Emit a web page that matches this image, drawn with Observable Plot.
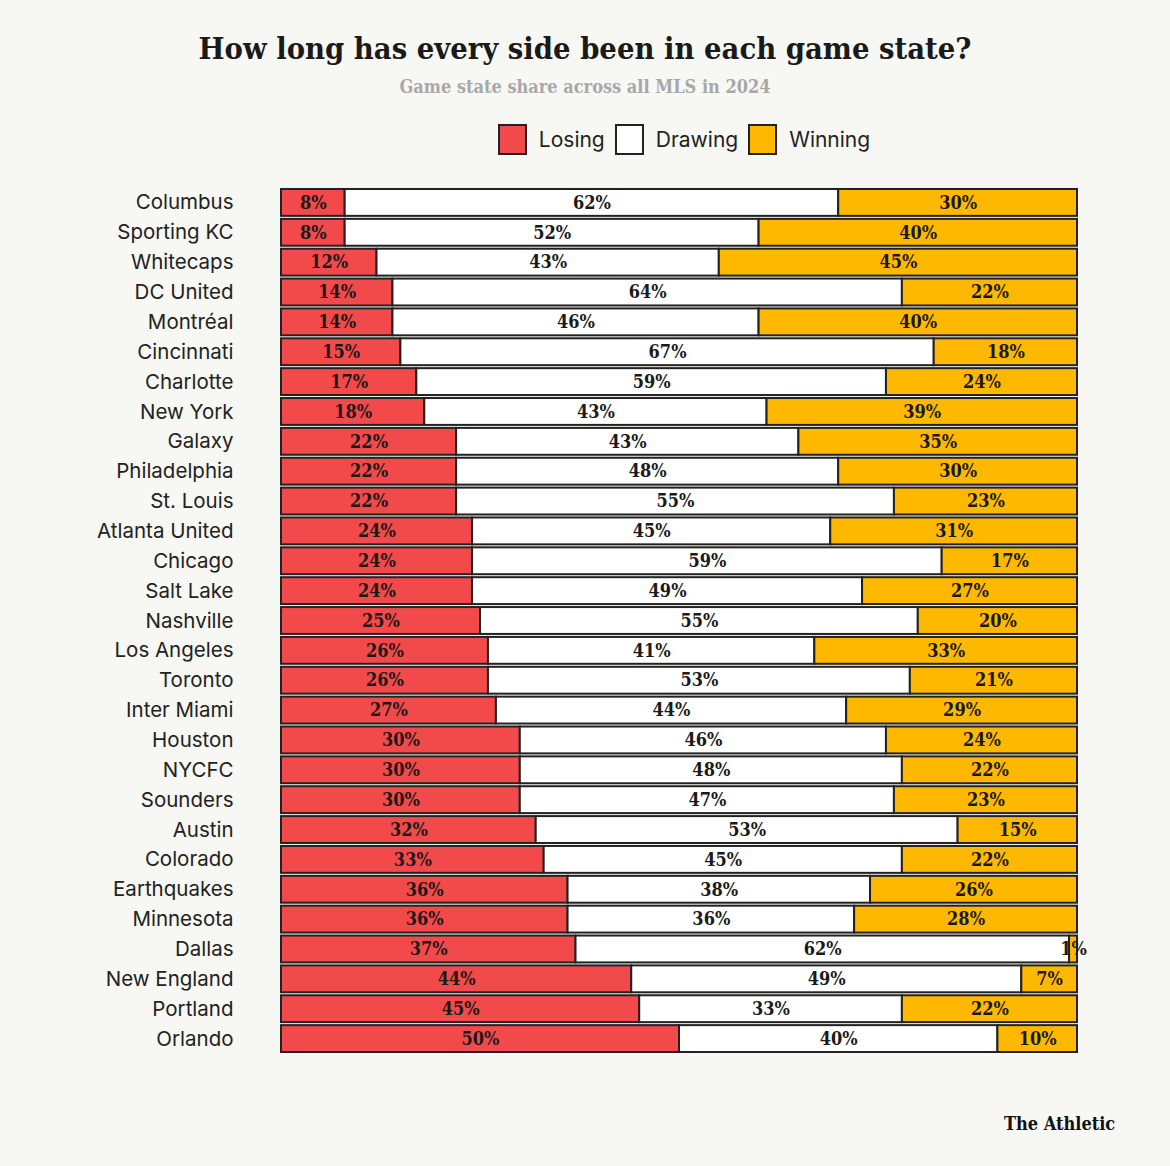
<!DOCTYPE html>
<html>
<head>
<meta charset="utf-8">
<script src="https://cdn.jsdelivr.net/npm/d3@7"></script>
<script src="https://cdn.jsdelivr.net/npm/@observablehq/plot@0.6"></script>
<style>
  html, body { margin: 0; padding: 0; background: #f7f7f3; }
  #wrap { position: relative; width: 1170px; height: 1166px; background: #f7f7f3; overflow: hidden; }
  .serif { font-family: "DejaVu Serif", serif; font-stretch: condensed; font-weight: bold; }
  #title { position: absolute; top: 30px; left: 0; width: 1170px; text-align: center; font-size: 30.6px; color: #1a1a1a; }
  #subtitle { position: absolute; top: 76px; left: 0; width: 1170px; text-align: center; font-size: 18px; color: #a8a8a8; }
  #legend { position: absolute; top: 124px; left: 0; width: 1170px; display: flex; justify-content: center; padding-left: 208px; box-sizing: border-box; font-family: Inter, "Noto Sans", sans-serif; font-size: 21px; color: #222; }
  .item { display: flex; align-items: center; margin-right: 10px; }
  .sw { width: 25px; height: 27px; border: 2px solid #222; margin-right: 12px; }
  #chart { position: absolute; top: 180px; left: 0; }
  #footer { position: absolute; top: 1113px; left: 1004px; font-size: 18px; color: #111; font-stretch: condensed; }
</style>
</head>
<body>
<div id="wrap">
  <div id="title" class="serif">How long has every side been in each game state?</div>
  <div id="subtitle" class="serif">Game state share across all MLS in 2024</div>
  <div id="legend"></div>
  <div id="chart"></div>
  <div id="footer" class="serif">The Athletic</div>
</div>
<script>
const teams = ["Columbus","Sporting KC","Whitecaps","DC United","Montréal","Cincinnati","Charlotte","New York","Galaxy","Philadelphia","St. Louis","Atlanta United","Chicago","Salt Lake","Nashville","Los Angeles","Toronto","Inter Miami","Houston","NYCFC","Sounders","Austin","Colorado","Earthquakes","Minnesota","Dallas","New England","Portland","Orlando"];
const losing  = [8,8,12,14,14,15,17,18,22,22,22,24,24,24,25,26,26,27,30,30,30,32,33,36,36,37,44,45,50];
const drawing = [62,52,43,64,46,67,59,43,43,48,55,45,59,49,55,41,53,44,46,48,47,53,45,38,36,62,49,33,40];
const winning = [30,40,45,22,40,18,24,39,35,30,23,31,17,27,20,33,21,29,24,22,23,15,22,26,28,1,7,22,10];
const states = ["Losing","Drawing","Winning"];
const colors = ["#f2494a","#ffffff","#ffb800"];

const data = [];
teams.forEach((t, i) => {
  data.push({team: t, state: "Losing", value: losing[i]});
  data.push({team: t, state: "Drawing", value: drawing[i]});
  data.push({team: t, state: "Winning", value: winning[i]});
});

const legend = document.getElementById("legend");
states.forEach((s, i) => {
  const it = document.createElement("div");
  it.className = "item";
  it.innerHTML = `<div class="sw" style="background:${colors[i]}"></div><span>${s}</span>`;
  legend.appendChild(it);
});

const plot = Plot.plot({
  width: 1170,
  height: 886,
  marginLeft: 281,
  marginRight: 93,
  marginTop: 6,
  marginBottom: 11,
  style: {background: "transparent", overflow: "visible"},
  x: {domain: [0, 100], axis: null},
  y: {domain: teams, padding: 0.1, round: false, label: null},
  color: {domain: states, range: colors},
  marks: [
    Plot.barX(data, Plot.stackX({
      x: "value", y: "team", fill: "state", order: states,
      stroke: "#222", strokeWidth: 2
    })),
    Plot.text(data, Plot.stackX({
      x: "value", y: "team", z: "state", order: states,
      text: d => d.value + "%",
      fontFamily: "DejaVu Serif", fontWeight: "bold", fontSize: 18,
      fill: "#1a1a1a", stroke: null
    })),
    Plot.axisY({
      tickSize: 0, tickPadding: 48, fontSize: 20.5,
      fontFamily: "Inter, 'Noto Sans', sans-serif", fill: "#222", label: null
    })
  ]
});
plot.querySelectorAll("g[aria-label='text'] text").forEach(t => t.style.fontStretch = "condensed");
document.getElementById("chart").appendChild(plot);
</script>
</body>
</html>
